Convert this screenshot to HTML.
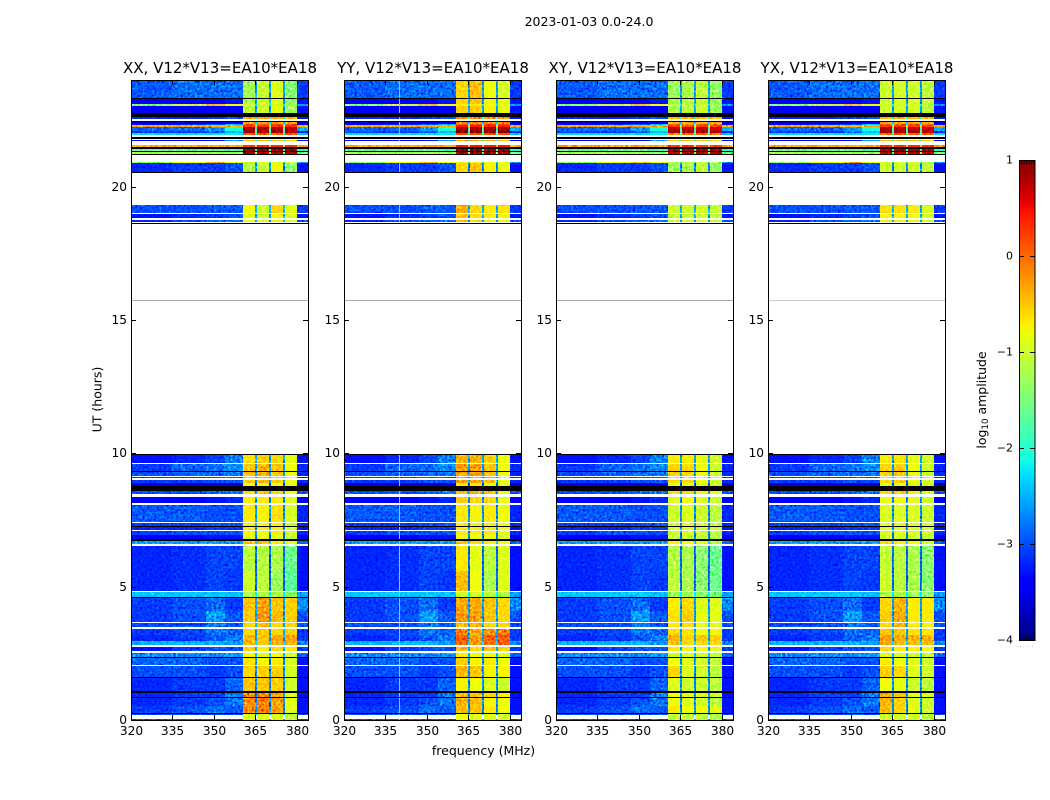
<!DOCTYPE html>
<html>
<head>
<meta charset="utf-8">
<title>2023-01-03 spectrogram</title>
<style>
html,body{margin:0;padding:0;background:#fff;width:1050px;height:800px;overflow:hidden}
svg{display:block}
text{font-family:"DejaVu Sans","Liberation Sans",sans-serif;fill:#000}
</style>
</head>
<body>
<svg id="fig" xmlns="http://www.w3.org/2000/svg" width="1050" height="800" viewBox="0 0 1050 800">
<defs>
<filter id="grain" x="0" y="0" width="100%" height="100%" color-interpolation-filters="sRGB">
<feTurbulence type="fractalNoise" baseFrequency="0.42" numOctaves="2" seed="4"/>
<feColorMatrix type="matrix" values="1.1 1.1 0 0 -0.6  1.1 1.1 0 0 -0.6  1.1 1.1 0 0 -0.6  0 0 0 0 1"/>
</filter>
</defs>
<rect x="0" y="0" width="1050" height="800" fill="#fff"/>
<text x="589" y="26" text-anchor="middle" font-size="12.5">2023-01-03 0.0-24.0</text>
<text x="483.5" y="755" text-anchor="middle" font-size="12.5">frequency (MHz)</text>
<text transform="translate(101.5,399.5) rotate(-90)" text-anchor="middle" font-size="12.5">UT (hours)</text>
<text transform="translate(986,400) rotate(-90)" text-anchor="middle" font-size="12.5">log<tspan font-size="8.7" dy="2">10</tspan><tspan dy="-2"> amplitude</tspan></text>
<g id="plots"></g>
<g id="cbar"></g>
</svg>
<script>
const _ = null;
const K = [-9,-9,-9,-9,-9,-9];

/* Categories */
const panelTitles = ["XX, V12*V13=EA10*EA18","YY, V12*V13=EA10*EA18","XY, V12*V13=EA10*EA18","YX, V12*V13=EA10*EA18"];
const xTickLabels = [320,335,350,365,380];
const yTickLabels = [0,5,10,15,20];
const cbarTickLabels = [1,0,-1,-2,-3,-4];
const faintHours = [15.75];
const yyLineFreqs = [339.8];

/* Channel ranges (MHz) */
const bgColumns = [[320,335],[335,347],[347,354],[354,360.4]];
const edgeColumn = [380.1,384];
const bandColumns = [[360.4,364.8],[365.5,369.9],[370.6,374.9],[375.6,380.1]];
const gapColumns = [[364.8,365.5],[369.9,370.6],[374.9,375.6]];

/* Time row edges (hours) */
const rowEdges = [
0,.05,.2,.23,.28,.54,.81,.84,1.03,1.07,
1.56,1.59,2.03,2.08,2.31,2.35,2.53,2.59,2.75,2.8,
2.95,3.2,3.43,3.47,3.62,3.66,4.1,4.58,4.63,4.8,
4.85,5.6,6.53,6.6,6.73,6.79,6.95,7.07,7.13,7.23,
7.29,7.37,7.41,8.08,8.14,8.38,8.49,8.58,8.79,8.9,
9.01,9.06,9.13,9.16,9.31,9.35,9.61,9.65,9.93,9.97,
18.6,18.64,18.67,18.75,18.81,18.96,19.02,19.32,20.5,20.53,
20.87,20.93,21.2,21.24,21.3,21.34,21.43,21.49,21.55,21.7,
21.75,21.8,21.85,21.95,22,22.1,22.24,22.31,22.36,22.43,
22.47,22.55,22.62,22.77,23.03,23.1,23.3,23.34,24];

/* log10 amplitude: four background columns, edge column, gap column. null = no data (white); K = flagged (black) */
const rowBackground = [
[-3,-3,-3,-3,-3,-2.5],_,[-3,-3,-3,-3,-3,-2.5],K,[-3.1,-3,-2.85,-2.95,-3.3,-2.7],[-3.2,-3.1,-3,-2.8,-3.3,-2.7],K,[-3.2,-3.1,-3.1,-2.8,-3.3,-2.7],K,[-3.2,-3.1,-3.1,-2.9,-3.3,-2.7],
K,[-3,-3,-3.1,-3,-3.3,-2.7],_,[-2.9,-2.9,-3,-3,-3.3,-2.7],K,[-2.7,-2.7,-2.7,-2.6,-2.9,-2.4],_,[-3.3,-3.1,-3,-3,-3.1,-2.6],_,[-2.5,-2.5,-2.5,-2.6,-2.7,-2.3],
[-3.2,-3.1,-2.95,-2.8,-3.1,-2.6],[-3.1,-3.05,-2.8,-2.9,-3.1,-2.6],_,[-3,-3,-2.8,-2.95,-3,-2.6],_,[-3.1,-3,-2.6,-2.95,-3,-2.6],[-3.1,-3,-2.85,-3.1,-2.7,-2.6],K,[-2.4,-2.4,-2.4,-2.45,-2.6,-2.2],_,
[-3.2,-3.15,-3.05,-3.1,-3.3,-2.9],[-3.2,-3.15,-3.05,-3.05,-3.3,-2.9],_,[-2.6,-2.6,-2.6,-2.6,-2.9,-2.3],K,[-3.4,-3.4,-3.3,-3.3,-3.5,-2.9],[-3.1,-3,-3,-3,-3.2,-2.7],_,[-3.2,-3.2,-3.1,-3.1,-3.3,-2.7],K,
[-3.1,-3.1,-3,-3,-3.2,-2.7],_,[-2.95,-2.95,-3,-3,-3.2,-2.7],_,[-3.4,-3.4,-3.3,-3.2,-3.4,-2.7],_,[-3,-3,-2.9,-2.8,-3,-2.6],K,[-3.6,-3.6,-3.6,-3.6,-3.7,-3.1],[-3.1,-3.1,-3,-3,-3.2,-2.7],
_,[-3.1,-3.1,-3,-2.9,-3.2,-2.7],_,[-3,-2.9,-2.85,-2.8,-3.2,-2.6],K,[-3.1,-2.9,-2.85,-2.7,-3.2,-2.6],_,[-3.3,-3.2,-3.05,-2.75,-3.3,-2.6],K,_,
K,_,[-3.2,-3,-2.9,-2.85,-3,-2.6],_,[-3.3,-3.2,-3.1,-3,-3.3,-2.6],_,[-3,-3,-2.95,-2.95,-3.1,-2.5],_,K,[-3.2,-3.1,-3.1,-3,-3.3,-2.7],
[-1.4,-.8,-.4,-.8,-2.6,-2.2],_,K,[-1.2,-1.2,-1.2,-1.3,-1.5,-1.3],K,[-1.7,-1.7,-1.7,-1.9,-2.1,-1.9],K,[-.35,-.35,-.35,-.35,-.35,-.5],_,[-3.4,-3.4,-3.3,-2.6,-3.4,-2.2],
_,K,_,[-2.3,-2.3,-2.3,-2.2,-2.4,-1.8],[-3.1,-3.1,-2.9,-2.4,-3.2,-2],[-2.9,-2.9,-2.6,-2.1,-2.5,-1.8],[-.35,-.35,-.35,-.35,-.35,-.6],[-3.3,-3.2,-3,-2.4,-3.3,-2],[-3.7,-3.7,-3.6,-3.4,-3.7,-2.4],K,
_,[-3.2,-3.2,-3.1,-3,-3.3,-2],K,[-3.4,-3.4,-3.4,-3.4,-3.3,-2.6],[-1.4,-1,-.5,-.8,-2.6,-2.2],[-3.4,-3.4,-3.4,-3.3,-3.3,-2.6],K,[-2.95,-2.85,-2.85,-2.85,-3.1,-2.6]];

/* Sub-band values per row, per correlation */
const xxBands = [
[-.9,-.9,-.9,-1.1],[-.9,-.9,-.9,-1.1],[-.9,-.9,-.9,-1.1],_,[-.2,-.15,-.3,-.9],[-.2,-.1,-.3,-.85],_,[-.15,-.1,-.3,-.85],_,[-.5,-.5,-.55,-1],
_,[-.6,-.55,-.55,-.95],_,[-.65,-.75,-.7,-.95],_,[-.8,-.9,-.8,-1],_,[-.6,-.75,-.6,-.7],_,[-.4,-.5,-.4,-.4],
[-.45,-.5,-.35,-.35],[-.6,-.5,-.6,-.55],_,[-.6,-.45,-.6,-.6],_,[-.55,-.25,-.45,-.55],[-.5,-.3,-.5,-.55],_,[-1.2,-1.2,-1.2,-1.4],_,
[-1,-1.1,-1.3,-1.7],[-1.1,-1.15,-1.2,-1.6],_,[-.5,-.45,-.7,-.9],_,[-.9,-.9,-.9,-1.1],[-.75,-.8,-.75,-1],_,[-.7,-.7,-.7,-.95],_,
[-.75,-.8,-.7,-1],_,[-.7,-.75,-.65,-.95],_,[-.7,-.7,-.7,-.9],_,[-.6,-.5,-.6,-.8],_,[-.8,-.8,-.8,-.9],[-.55,-.45,-.55,-.8],
_,[-.55,-.45,-.55,-.8],_,[-.5,-.35,-.5,-.8],_,[-.5,-.4,-.5,-.8],_,[-.65,-.55,-.6,-.85],_,_,
_,_,[-.8,-.9,-.7,-.9],_,[-.85,-1,-.75,-.95],_,[-.8,-1,-.6,-.85],_,_,[-1.2,-1.05,-.8,-1.4],
[-.9,-.9,-.9,-1.1],_,_,[.85,.8,.85,.85],_,[.9,.9,.85,.85],_,[.3,.3,.3,.3],_,[-.5,-.4,-.5,-.6],
_,_,_,[.1,.1,.1,.1],[.85,.85,.8,.8],[.85,.8,.8,.75],[.3,.3,.3,.3],[.1,.1,.2,.1],[-.3,-.3,-.3,-.3],_,
_,[-.35,-.3,-.35,-.4],_,[-1.1,-1,-.85,-1.3],[-1,-1,-1,-1.2],[-1.2,-1,-.9,-1.4],_,[-1.25,-1.05,-.9,-1.45]];

const yyBands = [
[-.8,-.9,-.9,-1],[-.8,-.9,-.9,-1],[-.8,-.9,-.9,-1],_,[-.45,-.5,-.7,-.8],[-.4,-.45,-.75,-.8],_,[-.45,-.5,-.6,-.7],_,[-.75,-.8,-.9,-1],
_,[-.4,-.5,-.75,-.75],_,[-.55,-.75,-.7,-.8],_,[-.7,-.8,-.8,-.9],_,[-.45,-.6,-.5,-.6],_,[.05,-.3,0,.05],
[.1,-.3,.05,.1],[-.15,-.35,-.2,-.1],_,[-.45,-.4,-.6,-.6],_,[-.25,-.3,-.5,-.6],[-.35,-.35,-.5,-.6],_,[-1,-1,-1.1,-1.2],_,
[-.45,-.8,-1.2,-.9],[-.7,-.85,-1.1,-.9],_,[-.5,-.6,-.7,-.8],_,[-.85,-.85,-.85,-.95],[-.7,-.75,-.7,-.85],_,[-.7,-.7,-.7,-.8],_,
[-.7,-.75,-.7,-.8],_,[-.7,-.75,-.7,-.8],_,[-.55,-.6,-.6,-.8],_,[-.4,-.4,-.5,-.8],_,[-.7,-.7,-.8,-.9],[-.3,-.3,-.45,-.8],
_,[-.3,-.3,-.45,-.8],_,[-.3,-.3,-.45,-.8],_,[-.3,-.3,-.5,-.8],_,[-.4,-.4,-.55,-.8],_,_,
_,_,[-.45,-.6,-.7,-.75],_,[-.5,-.6,-.7,-.75],_,[-.35,-.6,-.7,-.65],_,_,[-.6,-.5,-.75,-.85],
[-.7,-.7,-.8,-.9],_,_,[.9,.9,.9,.9],_,[.95,.95,.9,.9],_,[.45,.45,.45,.45],_,[-.3,-.3,-.4,-.5],
_,_,_,[.2,.2,.2,.2],[.95,.95,.9,.9],[.9,.9,.85,.85],[.45,.4,.4,.4],[.2,.2,.25,.2],[-.2,-.2,-.2,-.2],_,
_,[-.25,-.2,-.25,-.3],_,[-.55,-.55,-.75,-.85],[-.7,-.7,-.8,-.9],[-.6,-.5,-.75,-.85],_,[-.6,-.45,-.8,-.95]];

const xyBands = [
[-1.1,-1.1,-1.1,-1.2],[-1.1,-1.1,-1.1,-1.2],[-1.1,-1.1,-1.1,-1.2],_,[-.7,-.8,-.8,-.9],[-.8,-.9,-1,-1.1],_,[-.8,-.9,-.9,-1],_,[-.9,-1,-1,-1.1],
_,[-.6,-.9,-1,-1.1],_,[-.8,-.9,-1,-1.1],_,[-1,-1,-1,-1.1],_,[-.7,-.8,-.8,-.9],_,[-.45,-.6,-.6,-.6],
[-.4,-.6,-.5,-.55],[-.6,-.65,-.8,-.75],_,[-.7,-.6,-.85,-.9],_,[-.65,-.55,-.85,-.85],[-.7,-.6,-.9,-.9],_,[-1.3,-1.3,-1.4,-1.5],_,
[-1.1,-1.2,-1.4,-1.6],[-1.15,-1.2,-1.4,-1.6],_,[-.7,-.8,-.9,-1.1],_,[-1.1,-1.1,-1.1,-1.2],[-1,-.95,-1,-1.1],_,[-.95,-.9,-1,-1.05],_,
[-1,-.9,-1,-1.1],_,[-1,-.9,-1,-1.1],_,[-.85,-.8,-.9,-1],_,[-.6,-.6,-.75,-.95],_,[-.9,-.9,-1,-1],[-.6,-.6,-.8,-1],
_,[-.6,-.6,-.8,-1],_,[-.55,-.6,-.8,-1],_,[-.6,-.6,-.8,-1],_,[-.7,-.7,-.85,-1],_,_,
_,_,[-1,-1,-1,-1.05],_,[-1.05,-1.05,-1,-1.1],_,[-1,-1,-.95,-1.05],_,_,[-1.3,-1.2,-1.05,-1.35],
[-1.1,-1.1,-1.1,-1.2],_,_,[.75,.75,.75,.75],_,[.8,.8,.8,.75],_,[.25,.25,.25,.25],_,[-.55,-.5,-.55,-.65],
_,_,_,[0,0,0,0],[.8,.8,.75,.7],[.75,.7,.7,.65],[.25,.2,.25,.2],[0,0,.05,0],[-.4,-.4,-.4,-.4],_,
_,[-.45,-.4,-.45,-.5],_,[-1.2,-1.1,-1,-1.3],[-1.1,-1.1,-1.1,-1.25],[-1.25,-1.15,-1.05,-1.35],_,[-1.3,-1.2,-1.1,-1.35]];

const yxBands = [
[-1,-1,-1,-1.1],[-1,-1,-1,-1.1],[-1,-1,-1,-1.1],_,[-.45,-.6,-.85,-1],[-.4,-.55,-.9,-1],_,[-.35,-.5,-.9,-.9],_,[-.8,-.85,-1,-1.1],
_,[-.55,-.6,-.9,-1],_,[-.7,-.8,-.9,-1],_,[-.9,-.95,-1,-1.1],_,[-.6,-.7,-.75,-.8],_,[-.35,-.45,-.45,-.45],
[-.3,-.4,-.4,-.4],[-.5,-.5,-.65,-.65],_,[-.6,-.4,-.7,-.75],_,[-.55,-.35,-.7,-.7],[-.6,-.4,-.7,-.7],_,[-1.2,-1.2,-1.3,-1.4],_,
[-1,-1.1,-1.2,-1.4],[-1.05,-1.1,-1.2,-1.4],_,[-.6,-.7,-.8,-1],_,[-1,-1,-1,-1.1],[-.9,-.9,-.9,-1],_,[-.9,-.9,-.9,-1],_,
[-.9,-.9,-.9,-1],_,[-.9,-.9,-.9,-1],_,[-.8,-.8,-.85,-1],_,[-.6,-.55,-.7,-.95],_,[-.9,-.85,-.95,-1],[-.6,-.55,-.8,-1],
_,[-.6,-.55,-.8,-1],_,[-.55,-.5,-.8,-1],_,[-.6,-.55,-.8,-1],_,[-.7,-.65,-.85,-1],_,_,
_,_,[-.7,-.7,-.75,-.95],_,[-.75,-.75,-.8,-1],_,[-.65,-.65,-.7,-.9],_,_,[-1,-1,-1,-1.1],
[-.95,-.95,-.95,-1.1],_,_,[.8,.8,.8,.75],_,[.85,.85,.8,.8],_,[.3,.3,.3,.3],_,[-.45,-.45,-.5,-.6],
_,_,_,[.05,.05,.05,.05],[.85,.85,.8,.75],[.8,.75,.75,.7],[.3,.25,.25,.25],[.05,.05,.1,.05],[-.35,-.35,-.35,-.35],_,
_,[-.4,-.35,-.4,-.45],_,[-1,-.95,-.95,-1.1],[-.95,-.95,-.95,-1.1],[-1,-.95,-.95,-1.1],_,[-1,-.95,-1,-1.1]];

/* Axis functions */
const panelLefts = [131,344,556,768];
const panelWidth = 177, plotTop = 80, plotBottom = 720;
const NS = "http://www.w3.org/2000/svg";
function xOf(left, mhz){ return left + (mhz - 320) * panelWidth / 64; }
function yOf(h){ return plotBottom - h * (plotBottom - plotTop) / 24; }
function jetChannel(t, pts){
  for (let i = 1; i < pts.length; i++) {
    if (t <= pts[i][0]) {
      const a = pts[i-1], b = pts[i];
      return a[1] + (b[1]-a[1]) * (t-a[0]) / (b[0]-a[0]);
    }
  }
  return pts[pts.length-1][1];
}
function colorOf(v){
  if (v < -4.5) return "#000";
  const t = Math.min(1, Math.max(0, (v + 4) / 5));
  const r = jetChannel(t, [[0,0],[.35,0],[.66,1],[.89,1],[1,.5]]);
  const g = jetChannel(t, [[0,0],[.125,0],[.375,1],[.64,1],[.91,0],[1,0]]);
  const b = jetChannel(t, [[0,.5],[.11,1],[.34,1],[.65,0],[1,0]]);
  return "rgb(" + Math.round(r*255) + "," + Math.round(g*255) + "," + Math.round(b*255) + ")";
}
function make(tag, parent, attrs){
  const el = document.createElementNS(NS, tag);
  for (const k in attrs) el.setAttribute(k, attrs[k]);
  parent.appendChild(el);
  return el;
}

const plots = document.getElementById("plots");
const allBands = [xxBands, yyBands, xyBands, yxBands];
const panelNames = ["xx","yy","xy","yx"];

/* Pixel edges of the time rows: every row keeps at least one pixel */
function rowPixelEdges(){
  const out = [Math.round(yOf(rowEdges[0]))];
  for (let i = 1; i < rowEdges.length; i++) {
    out.push(Math.min(Math.round(yOf(rowEdges[i])), out[i-1] - 1));
  }
  return out;
}
const rowPixels = rowPixelEdges();

function drawCell(g, left, f0, f1, y0, y1, v){
  const a = Math.round(xOf(left, f0)), b = Math.round(xOf(left, f1));
  const r = make("rect", g, {x:a, y:y1, width:Math.max(1,b-a), height:y0-y1, fill:colorOf(v), "shape-rendering":"crispEdges"});
  
  
}

panelLefts.forEach(function(left, p){
  const g = make("g", plots, {});
  
  
  const bands = allBands[p];
  const heat = make("g", g, {style:"isolation:isolate"});
  
  
  const base = make("rect", heat, {x:left, y:plotTop, width:panelWidth, height:plotBottom-plotTop, fill:"#fff"});
  
  
  rowBackground.forEach(function(bg, i){
    const y0 = rowPixels[i], y1 = rowPixels[i+1];
    if (bg) {
      bgColumns.forEach(function(c, j){ drawCell(heat, left, c[0], c[1], y0, y1, bg[j]); });
      drawCell(heat, left, edgeColumn[0], edgeColumn[1], y0, y1, bg[4]);
      gapColumns.forEach(function(c){ drawCell(heat, left, c[0], c[1], y0, y1, bg[5]); });
    }
    if (bands[i] || bg) {
      bandColumns.forEach(function(c, j){
        const v = bands[i] ? bands[i][j] : bg[0];
        drawCell(heat, left, c[0], c[1], y0, y1, v);
      });
    }
    if (p === 1 && bg && bg[0] > -9) {
      yyLineFreqs.forEach(function(f){ drawCell(heat, left, f, f + 0.4, y0, y1, -2.1); });
    }
  });
  const grain = make("rect", heat, {x:left, y:plotTop, width:panelWidth, height:plotBottom-plotTop, filter:"url(#grain)", style:"mix-blend-mode:overlay"});
  
  

  rowBackground.forEach(function(bg, i){
    if (bg === K) {
      const f = make("rect", g, {x:left, y:rowPixels[i+1], width:panelWidth, height:rowPixels[i]-rowPixels[i+1], fill:"#000"});
      
      
    }
  });

  faintHours.forEach(function(h){
    const y = Math.round(yOf(h)) + 0.5;
    const l = make("line", g, {x1:left, x2:left+panelWidth, y1:y, y2:y, stroke: p === 3 ? "#ccc" : "#aaa", "stroke-width":1});
    
    
  });

  const frame = make("rect", g, {x:left+0.5, y:plotTop+0.5, width:panelWidth, height:plotBottom-plotTop, fill:"none", stroke:"#000", "stroke-width":1});
  
  

  xTickLabels.forEach(function(v){
    const x = Math.round(xOf(left, v)) + 0.5;
    [[plotBottom, plotBottom-5],[plotTop, plotTop+5]].forEach(function(s){
      const t = make("line", g, {x1:x, x2:x, y1:s[0], y2:s[1], stroke:"#000", "stroke-width":1});
      
      
    });
    const lab = make("text", g, {x:x, y:plotBottom+15, "text-anchor":"middle", "font-size":12.2});
    lab.textContent = String(v);
    
    
  });
  yTickLabels.forEach(function(v){
    const y = Math.round(yOf(v)) + 0.5;
    [[left, left+5],[left+panelWidth, left+panelWidth-5]].forEach(function(s){
      const t = make("line", g, {x1:s[0], x2:s[1], y1:y, y2:y, stroke:"#000", "stroke-width":1});
      
      
    });
    const lab = make("text", g, {x:left-4, y:y+3.5, "text-anchor":"end", "font-size":12.2});
    lab.textContent = String(v);
    
    
  });
  const title = make("text", g, {x:left+panelWidth/2+0.5, y:73, "text-anchor":"middle", "font-size":15});
  title.textContent = panelTitles[p];
  
  
});

/* Colorbar */
const cbar = document.getElementById("cbar");
const cbLeft = 1019, cbRight = 1035, cbTop = 160, cbBottom = 640;
function cbY(v){ return cbTop + (1 - v) * (cbBottom - cbTop) / 5; }
for (let py = cbTop; py < cbBottom; py += 2) {
  const v = 1 - (py + 1 - cbTop) * 5 / (cbBottom - cbTop);
  const s = make("rect", cbar, {x:cbLeft, y:py, width:cbRight-cbLeft, height:2, fill:colorOf(v), "shape-rendering":"crispEdges"});
  
  
}
const cbFrame = make("rect", cbar, {x:cbLeft+0.5, y:cbTop+0.5, width:cbRight-cbLeft-0.5, height:cbBottom-cbTop, fill:"none", stroke:"#000", "stroke-width":1});


cbarTickLabels.forEach(function(v){
  const y = Math.round(cbY(v)) + 0.5;
  if (v !== 1 && v !== -4) {
    [[cbLeft, cbLeft+5],[cbRight, cbRight-5]].forEach(function(s){
      const t = make("line", cbar, {x1:s[0], x2:s[1], y1:y, y2:y, stroke:"#000", "stroke-width":1});
      
      
    });
  }
  const lab = make("text", cbar, {x:cbLeft-6, y:Math.round(cbY(v))+3.5, "text-anchor":"end", "font-size":11});
  lab.textContent = v < 0 ? "\u2212" + Math.abs(v) : String(v);
  
  
});
[0,1,2,3,4,5].forEach(function(n){
  const x = cbLeft + 2.5 + n * 2.5;
  [[cbTop, cbTop+4],[cbBottom, cbBottom-4]].forEach(function(s){
    const t = make("line", cbar, {x1:x, x2:x, y1:s[0], y2:s[1], stroke:"#000", "stroke-width":0.7});
    
    
  });
});
const dots = make("text", cbar, {x:1017, y:647, "font-size":5, "letter-spacing":"1.4"});
dots.textContent = "......";
dots.style.fill = "#777";


</script>
</body>
</html>
